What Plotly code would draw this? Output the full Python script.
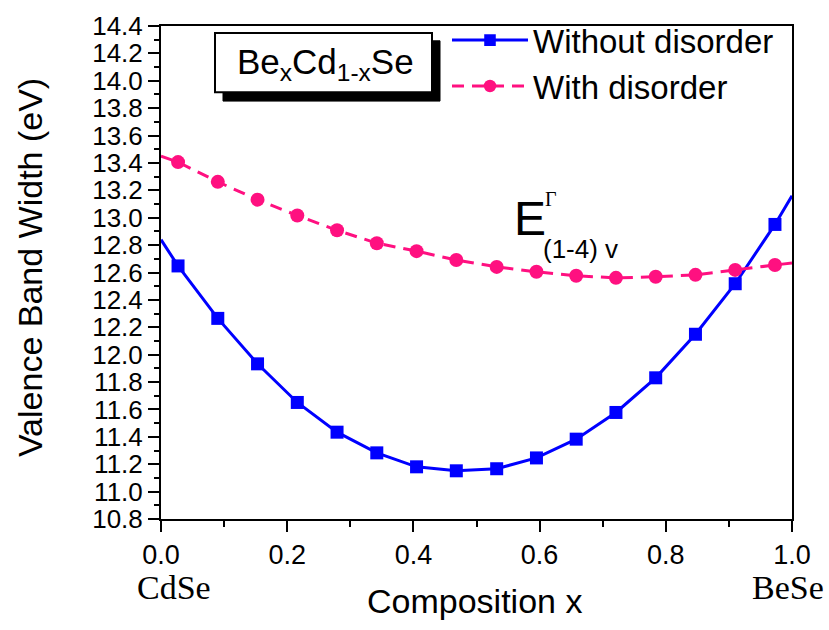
import plotly.graph_objects as go

# Composition x of the computed alloys (markers) and the curve end points
x_marks = [0.027, 0.090, 0.153, 0.216, 0.279, 0.342, 0.405, 0.468,
           0.532, 0.595, 0.658, 0.721, 0.784, 0.847, 0.910, 0.973]
x_ends = [0.0, 1.0]

# Valence band width (eV) without compositional disorder
vbw_without = [12.648, 12.265, 11.933, 11.651, 11.434, 11.283, 11.181, 11.152,
               11.167, 11.246, 11.383, 11.578, 11.831, 12.149, 12.518, 12.951]
vbw_without_ends = [12.84, 13.16]

# Valence band width (eV) with compositional disorder
vbw_with = [13.406, 13.262, 13.132, 13.016, 12.908, 12.814, 12.756, 12.691,
            12.641, 12.605, 12.576, 12.561, 12.569, 12.583, 12.619, 12.655]
vbw_with_ends = [13.45, 12.67]

x_tick_vals = [0.0, 0.2, 0.4, 0.6, 0.8, 1.0]
x_tick_text = ["0.0", "0.2", "0.4", "0.6", "0.8", "1.0"]

BLUE = "#0000FF"
PINK = "#FF1080"
SANS = "Liberation Sans, Arial, sans-serif"
SERIF = "Liberation Serif, Times New Roman, serif"

W, H = 829, 630
L, R, T, B = 161, 37, 20, 111


def px(xp):
    return (xp - L) / (W - L - R)


def py(yp):
    return (H - B - yp) / (H - B - T)


def full(xs, ys, x_end, y_end):
    return [x_end[0]] + xs + [x_end[1]], [y_end[0]] + ys + [y_end[1]]


xb, yb = full(x_marks, vbw_without, x_ends, vbw_without_ends)
xr, yr = full(x_marks, vbw_with, x_ends, vbw_with_ends)
sizes_b = [0] + [13] * len(x_marks) + [0]
sizes_r = [0] + [14] * len(x_marks) + [0]

fig = go.Figure()
fig.add_trace(go.Scatter(
    x=xb, y=yb, mode="lines+markers", name="Without disorder",
    line=dict(color=BLUE, width=3),
    marker=dict(symbol="square", size=sizes_b, color=BLUE, opacity=1,
                line=dict(width=0)),
))
fig.add_trace(go.Scatter(
    x=xr, y=yr, mode="lines+markers", name="With disorder",
    line=dict(color=PINK, width=3, dash="12px,8px"),
    marker=dict(symbol="circle", size=sizes_r, color=PINK, opacity=1,
                line=dict(width=0)),
))

axis_common = dict(
    showline=True, linecolor="black", linewidth=2, mirror=True,
    ticks="outside", tickcolor="black", tickwidth=2,
    showgrid=False, zeroline=False,
)

fig.update_xaxes(
    range=[0, 1], tickvals=x_tick_vals, ticktext=x_tick_text, ticklen=11,
    tickfont=dict(family=SANS, size=27, color="black"),
    minor=dict(dtick=0.1, ticks="outside", ticklen=6, tickwidth=2, tickcolor="black"),
    **axis_common,
)
fig.update_yaxes(
    range=[10.8, 14.4], dtick=0.2, tick0=10.8, tickformat=".1f", ticklen=11,
    tickfont=dict(family=SANS, size=26, color="black"),
    minor=dict(dtick=0.1, ticks="outside", ticklen=5, tickwidth=2, tickcolor="black"),
    **axis_common,
)

shapes = [
    # drop shadow of the alloy label
    dict(type="rect", xref="paper", yref="paper",
         x0=px(223), x1=px(440), y0=py(96), y1=py(35),
         fillcolor="black", line=dict(color="black", width=1)),
    dict(type="rect", xref="paper", yref="paper",
         x0=px(215), x1=px(432), y0=py(87), y1=py(27),
         fillcolor="white", line=dict(color="black", width=2)),
]

annotations = [
    dict(text="Be<sub>x</sub>Cd<sub>1-x</sub>Se", x=px(325), y=py(58),
         font=dict(family=SANS, size=35, color="black")),
    dict(text="E", x=px(530), y=py(215),
         font=dict(family=SANS, size=48, color="black")),
    dict(text="Γ", x=px(551), y=py(195),
         font=dict(family=SERIF, size=20, color="black")),
    dict(text="(1-4) v", x=px(541), y=py(246), xanchor="left",
         font=dict(family=SANS, size=26, color="black")),
    dict(text="Valence Band Width (eV)", x=px(30), y=py(265), textangle=-90,
         font=dict(family=SANS, size=34, color="black")),
    dict(text="Composition x", x=px(474), y=py(602),
         font=dict(family=SANS, size=34, color="black")),
    dict(text="CdSe", x=px(174), y=py(588),
         font=dict(family=SERIF, size=34, color="black")),
    dict(text="BeSe", x=px(788), y=py(588),
         font=dict(family=SERIF, size=34, color="black")),
]
for a in annotations:
    a.setdefault("xanchor", "center")
    a.update(xref="paper", yref="paper", yanchor="middle", showarrow=False)

fig.update_layout(
    width=W, height=H,
    margin=dict(l=L, r=R, t=T, b=B),
    paper_bgcolor="white", plot_bgcolor="white",
    showlegend=True,
    legend=dict(
        x=px(447), y=py(6), xanchor="left", yanchor="top",
        font=dict(family=SANS, size=33, color="black"),
        bgcolor="rgba(0,0,0,0)", itemwidth=76, tracegroupgap=0,
    ),
    shapes=shapes,
    annotations=annotations,
)

fig.write_html("out.html")
